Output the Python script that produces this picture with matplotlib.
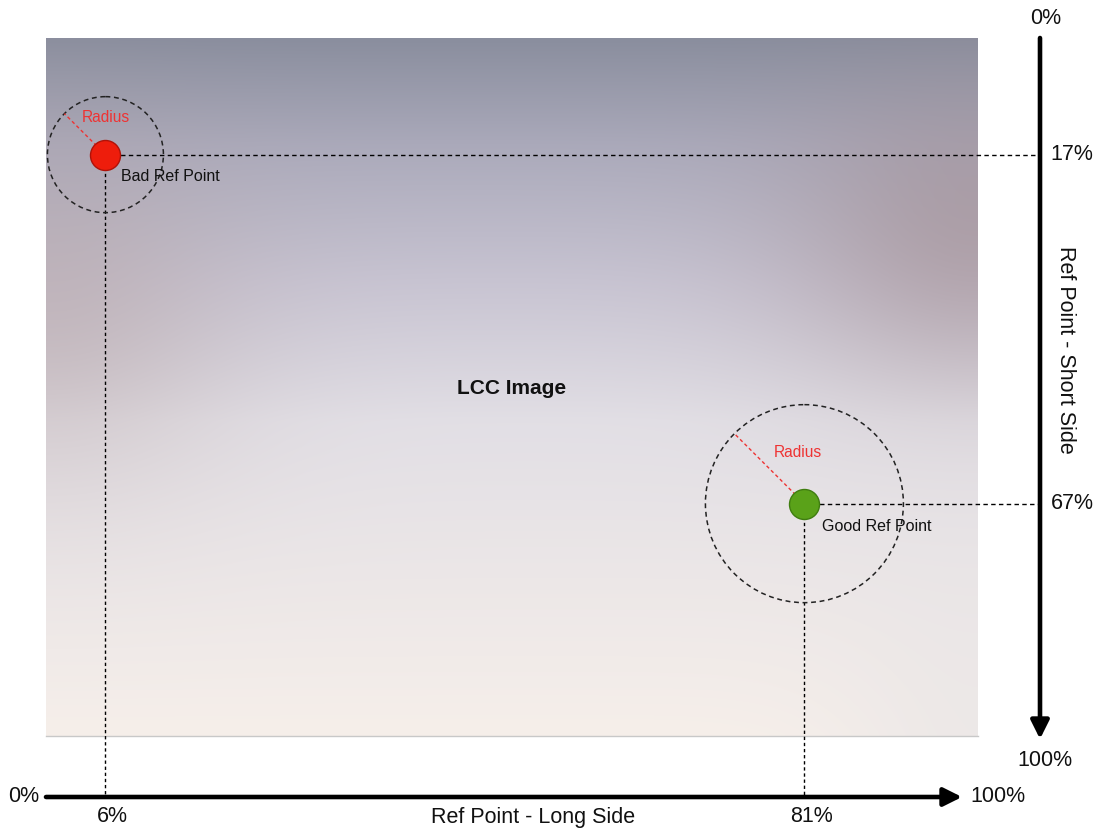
import numpy as np
import matplotlib
matplotlib.use("Agg")
import matplotlib.pyplot as plt
from matplotlib.patches import Ellipse

plt.rcParams['font.family'] = ['Liberation Sans', 'DejaVu Sans']

# ---- data ----
point_names = ["Bad Ref Point", "Good Ref Point"]
long_side_pct = [6, 81]        # x, % of long side
short_side_pct = [17, 67]      # y, % of short side
radius_px = [58, 99]           # radius of search circle (pixels)
point_colors = ["#ee1d0c", "#5aa219"]
point_edges = ["#b01208", "#3f7d10"]
long_tick_labels = ["6%", "81%"]
short_tick_labels = ["17%", "67%"]

# ---- pixel mapping ----
W, H = 1100, 832
sx, sy = 9.32, 6.98
x0, y0 = 49.5, 36.0

def dx(px):
    return (px - x0) / sx

def dy(py):
    return (py - y0) / sy

fig = plt.figure(figsize=(W / 100, H / 100), dpi=100)
ax = fig.add_axes([0, 0, 1, 1])
ax.set_xlim(dx(0), dx(W))
ax.set_ylim(dy(H), dy(0))
ax.axis('off')

# ---- gradient background image ----
nh, nw = 240, 320
t = np.linspace(0, 1, nh)[:, None]
s = np.linspace(0, 1, nw)[None, :]
stops_t = [0.0, 0.15, 0.35, 0.55, 1.0]
stops_c = np.array([[138, 142, 158], [170, 169, 186], [200, 196, 210],
                    [226, 223, 229], [246, 239, 234]], float)
base = np.zeros((nh, nw, 3))
for k in range(3):
    base[:, :, k] = np.interp(t[:, 0], stops_t, stops_c[:, k])[:, None]
# side tints
wr = np.exp(-((1 - s) / 0.2) ** 2) * np.exp(-((t - 0.28) / 0.22) ** 2)
wl = np.exp(-(s / 0.2) ** 2) * np.exp(-((t - 0.38) / 0.25) ** 2)
tint_r = np.array([160, 138, 142], float)
tint_l = np.array([180, 160, 160], float)
img = base * (1 - 0.55 * wr[..., None]) + tint_r * 0.55 * wr[..., None]
img = img * (1 - 0.45 * wl[..., None]) + tint_l * 0.45 * wl[..., None]
# bottom-right slightly gray
wbr = np.exp(-((1 - s) / 0.15) ** 2) * np.clip((t - 0.5) / 0.5, 0, 1)
img = img * (1 - 0.5 * wbr[..., None]) + np.array([228, 226, 229]) * 0.5 * wbr[..., None]
ax.imshow(img / 255.0, extent=[dx(46), dx(978), dy(736), dy(38)],
          aspect='auto', interpolation='bicubic', zorder=0)
ax.plot([dx(46), dx(978)], [dy(736), dy(736)], color='#c8c8c8', lw=1, zorder=1)

# ---- axes arrows ----
ya = dy(797)
xa = dx(1040)
astyle = '-|>,head_length=1.1,head_width=0.55'
ax.annotate('', xy=(dx(962), ya), xytext=(dx(46), ya),
            arrowprops=dict(arrowstyle=astyle, lw=3.3, color='black',
                            shrinkA=0, shrinkB=0), zorder=5)
ax.annotate('', xy=(xa, dy(739)), xytext=(xa, dy(38)),
            arrowprops=dict(arrowstyle=astyle, lw=3.3, color='black',
                            shrinkA=0, shrinkB=0), zorder=5)

hdash = (0, (3.2, 2.4))
vdash = (0, (2.4, 2.0))
label_off = [(16, 22), (18, 23)]
radius_lbl_off = [(0, -37), (-7, -51)]
fs_axis = 15.5
for i, name in enumerate(point_names):
    x, y = long_side_pct[i], short_side_pct[i]
    r = radius_px[i]
    # guide lines
    ax.plot([x, x], [y, ya], color='black', lw=1.0, ls=vdash, zorder=2)
    ax.plot([x, xa], [y, y], color='black', lw=1.0, ls=hdash, zorder=2)
    # circle
    ax.add_patch(Ellipse((x, y), 2 * r / sx, 2 * r / sy, fill=False,
                         ec='#222222', lw=1.1, ls=hdash, zorder=3))
    # radius line at 135 deg
    c = np.cos(np.deg2rad(45)) * r
    ax.plot([x, x - c / sx], [y, y - c / sy], color='#ee3333', lw=1.0,
            ls=(0, (2.5, 2)), zorder=3)
    ax.scatter([x], [y], s=(30 * 0.72) ** 2, c=point_colors[i],
               edgecolors=point_edges[i], linewidths=1.0, zorder=4)
    ox, oy = label_off[i]
    ax.text(x + ox / sx, y + oy / sy, name, fontsize=11.5, ha='left',
            va='center', color='#111111', zorder=6)
    rx, ry = radius_lbl_off[i]
    ax.text(x + rx / sx, y + ry / sy, "Radius", fontsize=11.2, ha='center',
            va='center', color='#ee3333', zorder=6)
    # tick labels
    ax.text(x + 7 / sx, dy(817), long_tick_labels[i], fontsize=fs_axis,
            ha='center', va='center', color='#111111')
    ax.text(dx(1072), y, short_tick_labels[i], fontsize=fs_axis,
            ha='center', va='center', color='#111111')

ax.text(dx(512), dy(389), "LCC Image", fontsize=15, fontweight='bold',
        ha='center', va='center', color='#111111')
ax.text(dx(24), ya, "0%", fontsize=fs_axis, ha='center', va='center', color='#111111')
ax.text(dx(970), ya, "100%", fontsize=fs_axis, ha='left', va='center', color='#111111')
ax.text(xa + 6 / sx, dy(18), "0%", fontsize=fs_axis, ha='center', va='center', color='#111111')
ax.text(xa + 5 / sx, dy(760), "100%", fontsize=fs_axis, ha='center', va='center', color='#111111')
ax.text(dx(533), dy(818), "Ref Point - Long Side", fontsize=fs_axis,
        ha='center', va='center', color='#111111')
ax.text(dx(1066), dy(350), "Ref Point - Short Side", fontsize=fs_axis,
        rotation=-90, ha='center', va='center', color='#111111')

fig.savefig("out.png", dpi=100)
